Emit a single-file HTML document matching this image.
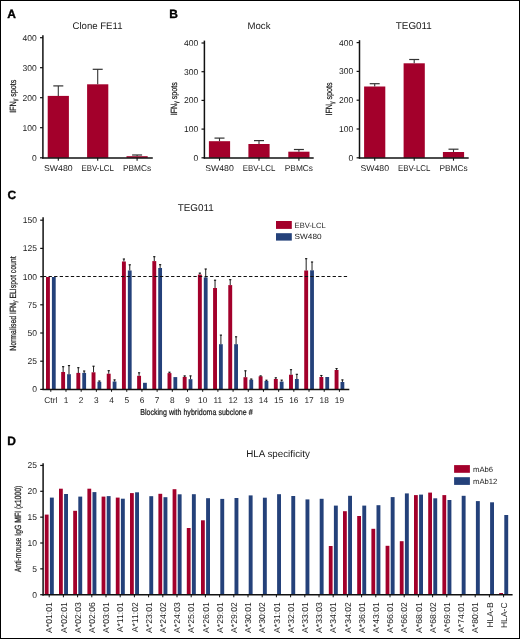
<!DOCTYPE html>
<html><head><meta charset="utf-8"><title>Figure</title>
<style>
html,body{margin:0;padding:0;background:#fff;}
.fig{position:relative;width:520px;height:639px;box-sizing:border-box;border:1px solid #000;background:#fff;overflow:hidden;}
svg{position:absolute;left:-1px;top:-1px;will-change:transform;}
text{font-family:"Liberation Sans", sans-serif;text-rendering:geometricPrecision;}
.cl{stroke:#1a1a1a;stroke-width:0.22px;}
.bl{stroke:#000;stroke-width:0.35px;}
</style></head>
<body><div class="fig">
<svg width="520" height="639" viewBox="0 0 520 639">
<text x="7.30" y="17.80" font-size="12" text-anchor="start" font-weight="bold" fill="#000" class="bl">A</text>
<text x="169.30" y="17.80" font-size="12" text-anchor="start" font-weight="bold" fill="#000" class="bl">B</text>
<text x="7.40" y="199.30" font-size="12" text-anchor="start" font-weight="bold" fill="#000" class="bl">C</text>
<text x="7.30" y="445.20" font-size="12" text-anchor="start" font-weight="bold" fill="#000" class="bl">D</text>
<line x1="42.90" y1="35.20" x2="42.90" y2="158.50" stroke="#111" stroke-width="1.5" />
<line x1="40.00" y1="37.70" x2="43.00" y2="37.70" stroke="#111" stroke-width="1.2" />
<text x="36.70" y="40.70" font-size="8.5" text-anchor="end" font-weight="normal" fill="#1a1a1a" >400</text>
<line x1="40.00" y1="67.70" x2="43.00" y2="67.70" stroke="#111" stroke-width="1.2" />
<text x="36.70" y="70.70" font-size="8.5" text-anchor="end" font-weight="normal" fill="#1a1a1a" >300</text>
<line x1="40.00" y1="97.70" x2="43.00" y2="97.70" stroke="#111" stroke-width="1.2" />
<text x="36.70" y="100.70" font-size="8.5" text-anchor="end" font-weight="normal" fill="#1a1a1a" >200</text>
<line x1="40.00" y1="127.70" x2="43.00" y2="127.70" stroke="#111" stroke-width="1.2" />
<text x="36.70" y="130.70" font-size="8.5" text-anchor="end" font-weight="normal" fill="#1a1a1a" >100</text>
<line x1="40.00" y1="157.80" x2="43.00" y2="157.80" stroke="#111" stroke-width="1.2" />
<text x="36.70" y="160.80" font-size="8.5" text-anchor="end" font-weight="normal" fill="#1a1a1a" >0</text>
<rect x="47.70" y="95.90" width="21.20" height="61.90" fill="#a3002b"/>
<line x1="58.30" y1="85.90" x2="58.30" y2="95.90" stroke="#333" stroke-width="1.1" />
<line x1="53.30" y1="85.90" x2="63.30" y2="85.90" stroke="#333" stroke-width="1.2" />
<line x1="58.30" y1="157.80" x2="58.30" y2="160.70" stroke="#111" stroke-width="1.1" />
<text x="58.30" y="171.00" font-size="8.5" text-anchor="middle" font-weight="normal" fill="#1a1a1a" textLength="28.6" lengthAdjust="spacingAndGlyphs">SW480</text>
<rect x="87.10" y="84.30" width="21.20" height="73.50" fill="#a3002b"/>
<line x1="97.70" y1="69.30" x2="97.70" y2="84.30" stroke="#333" stroke-width="1.1" />
<line x1="92.70" y1="69.30" x2="102.70" y2="69.30" stroke="#333" stroke-width="1.2" />
<line x1="97.70" y1="157.80" x2="97.70" y2="160.70" stroke="#111" stroke-width="1.1" />
<text x="97.70" y="171.00" font-size="8.5" text-anchor="middle" font-weight="normal" fill="#1a1a1a" textLength="32.6" lengthAdjust="spacingAndGlyphs">EBV-LCL</text>
<rect x="126.50" y="156.20" width="21.20" height="1.60" fill="#a3002b"/>
<line x1="137.10" y1="155.00" x2="137.10" y2="156.20" stroke="#333" stroke-width="1.1" />
<line x1="132.10" y1="155.00" x2="142.10" y2="155.00" stroke="#333" stroke-width="1.2" />
<line x1="137.10" y1="157.80" x2="137.10" y2="160.70" stroke="#111" stroke-width="1.1" />
<text x="137.10" y="171.00" font-size="8.5" text-anchor="middle" font-weight="normal" fill="#1a1a1a" textLength="28.2" lengthAdjust="spacingAndGlyphs">PBMCs</text>
<line x1="42.20" y1="158.10" x2="152.80" y2="158.10" stroke="#111" stroke-width="1.5" />
<text x="97.50" y="29.10" font-size="9.6" text-anchor="middle" font-weight="normal" fill="#1a1a1a" >Clone FE11</text>
<text transform="translate(15.60,96.30) rotate(-90)" x="0" y="0" font-size="9.0" text-anchor="middle" fill="#1a1a1a" textLength="33" lengthAdjust="spacingAndGlyphs" class="cl">IFN<tspan font-size="6.5" dy="1.2">γ</tspan><tspan dy="-1.2"> spots</tspan></text>
<line x1="204.40" y1="40.60" x2="204.40" y2="158.50" stroke="#111" stroke-width="1.5" />
<line x1="201.50" y1="43.00" x2="204.50" y2="43.00" stroke="#111" stroke-width="1.2" />
<text x="198.20" y="46.00" font-size="8.5" text-anchor="end" font-weight="normal" fill="#1a1a1a" >400</text>
<line x1="201.50" y1="71.70" x2="204.50" y2="71.70" stroke="#111" stroke-width="1.2" />
<text x="198.20" y="74.70" font-size="8.5" text-anchor="end" font-weight="normal" fill="#1a1a1a" >300</text>
<line x1="201.50" y1="100.40" x2="204.50" y2="100.40" stroke="#111" stroke-width="1.2" />
<text x="198.20" y="103.40" font-size="8.5" text-anchor="end" font-weight="normal" fill="#1a1a1a" >200</text>
<line x1="201.50" y1="129.10" x2="204.50" y2="129.10" stroke="#111" stroke-width="1.2" />
<text x="198.20" y="132.10" font-size="8.5" text-anchor="end" font-weight="normal" fill="#1a1a1a" >100</text>
<line x1="201.50" y1="157.80" x2="204.50" y2="157.80" stroke="#111" stroke-width="1.2" />
<text x="198.20" y="160.80" font-size="8.5" text-anchor="end" font-weight="normal" fill="#1a1a1a" >0</text>
<rect x="208.90" y="141.20" width="21.20" height="16.60" fill="#a3002b"/>
<line x1="219.50" y1="138.10" x2="219.50" y2="141.20" stroke="#333" stroke-width="1.1" />
<line x1="214.50" y1="138.10" x2="224.50" y2="138.10" stroke="#333" stroke-width="1.2" />
<line x1="219.50" y1="157.80" x2="219.50" y2="160.70" stroke="#111" stroke-width="1.1" />
<text x="219.50" y="171.00" font-size="8.5" text-anchor="middle" font-weight="normal" fill="#1a1a1a" textLength="28.6" lengthAdjust="spacingAndGlyphs">SW480</text>
<rect x="248.40" y="144.00" width="21.20" height="13.80" fill="#a3002b"/>
<line x1="259.00" y1="140.60" x2="259.00" y2="144.00" stroke="#333" stroke-width="1.1" />
<line x1="254.00" y1="140.60" x2="264.00" y2="140.60" stroke="#333" stroke-width="1.2" />
<line x1="259.00" y1="157.80" x2="259.00" y2="160.70" stroke="#111" stroke-width="1.1" />
<text x="259.00" y="171.00" font-size="8.5" text-anchor="middle" font-weight="normal" fill="#1a1a1a" textLength="32.6" lengthAdjust="spacingAndGlyphs">EBV-LCL</text>
<rect x="288.30" y="151.70" width="21.20" height="6.10" fill="#a3002b"/>
<line x1="298.90" y1="149.50" x2="298.90" y2="151.70" stroke="#333" stroke-width="1.1" />
<line x1="293.90" y1="149.50" x2="303.90" y2="149.50" stroke="#333" stroke-width="1.2" />
<line x1="298.90" y1="157.80" x2="298.90" y2="160.70" stroke="#111" stroke-width="1.1" />
<text x="298.90" y="171.00" font-size="8.5" text-anchor="middle" font-weight="normal" fill="#1a1a1a" textLength="28.2" lengthAdjust="spacingAndGlyphs">PBMCs</text>
<line x1="203.70" y1="158.10" x2="313.70" y2="158.10" stroke="#111" stroke-width="1.5" />
<text x="259.00" y="29.10" font-size="9.6" text-anchor="middle" font-weight="normal" fill="#1a1a1a" >Mock</text>
<text transform="translate(176.90,98.80) rotate(-90)" x="0" y="0" font-size="9.0" text-anchor="middle" fill="#1a1a1a" textLength="33" lengthAdjust="spacingAndGlyphs" class="cl">IFN<tspan font-size="6.5" dy="1.2">γ</tspan><tspan dy="-1.2"> spots</tspan></text>
<line x1="359.50" y1="40.20" x2="359.50" y2="158.50" stroke="#111" stroke-width="1.5" />
<line x1="356.60" y1="42.60" x2="359.60" y2="42.60" stroke="#111" stroke-width="1.2" />
<text x="353.30" y="45.60" font-size="8.5" text-anchor="end" font-weight="normal" fill="#1a1a1a" >400</text>
<line x1="356.60" y1="71.40" x2="359.60" y2="71.40" stroke="#111" stroke-width="1.2" />
<text x="353.30" y="74.40" font-size="8.5" text-anchor="end" font-weight="normal" fill="#1a1a1a" >300</text>
<line x1="356.60" y1="100.20" x2="359.60" y2="100.20" stroke="#111" stroke-width="1.2" />
<text x="353.30" y="103.20" font-size="8.5" text-anchor="end" font-weight="normal" fill="#1a1a1a" >200</text>
<line x1="356.60" y1="129.00" x2="359.60" y2="129.00" stroke="#111" stroke-width="1.2" />
<text x="353.30" y="132.00" font-size="8.5" text-anchor="end" font-weight="normal" fill="#1a1a1a" >100</text>
<line x1="356.60" y1="157.80" x2="359.60" y2="157.80" stroke="#111" stroke-width="1.2" />
<text x="353.30" y="160.80" font-size="8.5" text-anchor="end" font-weight="normal" fill="#1a1a1a" >0</text>
<rect x="364.10" y="86.50" width="21.20" height="71.30" fill="#a3002b"/>
<line x1="374.70" y1="83.70" x2="374.70" y2="86.50" stroke="#333" stroke-width="1.1" />
<line x1="369.70" y1="83.70" x2="379.70" y2="83.70" stroke="#333" stroke-width="1.2" />
<line x1="374.70" y1="157.80" x2="374.70" y2="160.70" stroke="#111" stroke-width="1.1" />
<text x="374.70" y="171.00" font-size="8.5" text-anchor="middle" font-weight="normal" fill="#1a1a1a" textLength="28.6" lengthAdjust="spacingAndGlyphs">SW480</text>
<rect x="403.60" y="63.30" width="21.20" height="94.50" fill="#a3002b"/>
<line x1="414.20" y1="59.50" x2="414.20" y2="63.30" stroke="#333" stroke-width="1.1" />
<line x1="409.20" y1="59.50" x2="419.20" y2="59.50" stroke="#333" stroke-width="1.2" />
<line x1="414.20" y1="157.80" x2="414.20" y2="160.70" stroke="#111" stroke-width="1.1" />
<text x="414.20" y="171.00" font-size="8.5" text-anchor="middle" font-weight="normal" fill="#1a1a1a" textLength="32.6" lengthAdjust="spacingAndGlyphs">EBV-LCL</text>
<rect x="442.90" y="152.00" width="21.20" height="5.80" fill="#a3002b"/>
<line x1="453.50" y1="149.20" x2="453.50" y2="152.00" stroke="#333" stroke-width="1.1" />
<line x1="448.50" y1="149.20" x2="458.50" y2="149.20" stroke="#333" stroke-width="1.2" />
<line x1="453.50" y1="157.80" x2="453.50" y2="160.70" stroke="#111" stroke-width="1.1" />
<text x="453.50" y="171.00" font-size="8.5" text-anchor="middle" font-weight="normal" fill="#1a1a1a" textLength="28.2" lengthAdjust="spacingAndGlyphs">PBMCs</text>
<line x1="358.80" y1="158.10" x2="468.70" y2="158.10" stroke="#111" stroke-width="1.5" />
<text x="413.80" y="29.10" font-size="9.9" text-anchor="middle" font-weight="normal" fill="#1a1a1a" >TEG011</text>
<text transform="translate(332.30,99.00) rotate(-90)" x="0" y="0" font-size="9.0" text-anchor="middle" fill="#1a1a1a" textLength="33" lengthAdjust="spacingAndGlyphs" class="cl">IFN<tspan font-size="6.5" dy="1.2">γ</tspan><tspan dy="-1.2"> spots</tspan></text>
<line x1="43.10" y1="217.20" x2="43.10" y2="390.10" stroke="#111" stroke-width="1.5" />
<line x1="40.20" y1="389.40" x2="43.20" y2="389.40" stroke="#111" stroke-width="1.2" />
<text x="37.00" y="392.40" font-size="8.5" text-anchor="end" font-weight="normal" fill="#1a1a1a" >0</text>
<line x1="40.20" y1="361.20" x2="43.20" y2="361.20" stroke="#111" stroke-width="1.2" />
<text x="37.00" y="364.20" font-size="8.5" text-anchor="end" font-weight="normal" fill="#1a1a1a" >25</text>
<line x1="40.20" y1="333.00" x2="43.20" y2="333.00" stroke="#111" stroke-width="1.2" />
<text x="37.00" y="336.00" font-size="8.5" text-anchor="end" font-weight="normal" fill="#1a1a1a" >50</text>
<line x1="40.20" y1="304.80" x2="43.20" y2="304.80" stroke="#111" stroke-width="1.2" />
<text x="37.00" y="307.80" font-size="8.5" text-anchor="end" font-weight="normal" fill="#1a1a1a" >75</text>
<line x1="40.20" y1="276.60" x2="43.20" y2="276.60" stroke="#111" stroke-width="1.2" />
<text x="37.00" y="279.60" font-size="8.5" text-anchor="end" font-weight="normal" fill="#1a1a1a" >100</text>
<line x1="40.20" y1="248.40" x2="43.20" y2="248.40" stroke="#111" stroke-width="1.2" />
<text x="37.00" y="251.40" font-size="8.5" text-anchor="end" font-weight="normal" fill="#1a1a1a" >125</text>
<line x1="40.20" y1="220.20" x2="43.20" y2="220.20" stroke="#111" stroke-width="1.2" />
<text x="37.00" y="223.20" font-size="8.5" text-anchor="end" font-weight="normal" fill="#1a1a1a" >150</text>
<rect x="46.00" y="277.00" width="3.90" height="112.40" fill="#a3002b"/>
<rect x="51.90" y="277.00" width="3.80" height="112.40" fill="#24417a"/>
<line x1="50.80" y1="389.40" x2="50.80" y2="391.80" stroke="#111" stroke-width="1.0" />
<text x="50.80" y="402.50" font-size="8.3" text-anchor="middle" font-weight="normal" fill="#1a1a1a" >Ctrl</text>
<rect x="61.19" y="372.00" width="3.90" height="17.40" fill="#a3002b"/>
<rect x="67.09" y="374.20" width="3.80" height="15.20" fill="#24417a"/>
<line x1="63.14" y1="366.60" x2="63.14" y2="372.00" stroke="#2a2a2a" stroke-width="1.05" />
<line x1="62.04" y1="366.70" x2="64.24" y2="366.70" stroke="#111" stroke-width="1.1" />
<line x1="68.99" y1="365.50" x2="68.99" y2="374.20" stroke="#2a2a2a" stroke-width="1.05" />
<line x1="67.89" y1="365.60" x2="70.09" y2="365.60" stroke="#111" stroke-width="1.1" />
<line x1="65.99" y1="389.40" x2="65.99" y2="391.80" stroke="#111" stroke-width="1.0" />
<text x="65.99" y="402.50" font-size="8.3" text-anchor="middle" font-weight="normal" fill="#1a1a1a" >1</text>
<rect x="76.38" y="372.90" width="3.90" height="16.50" fill="#a3002b"/>
<rect x="82.28" y="372.90" width="3.80" height="16.50" fill="#24417a"/>
<line x1="78.33" y1="367.60" x2="78.33" y2="372.90" stroke="#2a2a2a" stroke-width="1.05" />
<line x1="77.23" y1="367.70" x2="79.43" y2="367.70" stroke="#111" stroke-width="1.1" />
<line x1="84.18" y1="370.90" x2="84.18" y2="372.90" stroke="#2a2a2a" stroke-width="1.05" />
<line x1="83.08" y1="371.00" x2="85.28" y2="371.00" stroke="#111" stroke-width="1.1" />
<line x1="81.18" y1="389.40" x2="81.18" y2="391.80" stroke="#111" stroke-width="1.0" />
<text x="81.18" y="402.50" font-size="8.3" text-anchor="middle" font-weight="normal" fill="#1a1a1a" >2</text>
<rect x="91.57" y="372.30" width="3.90" height="17.10" fill="#a3002b"/>
<rect x="97.47" y="381.80" width="3.80" height="7.60" fill="#24417a"/>
<line x1="93.52" y1="366.10" x2="93.52" y2="372.30" stroke="#2a2a2a" stroke-width="1.05" />
<line x1="92.42" y1="366.20" x2="94.62" y2="366.20" stroke="#111" stroke-width="1.1" />
<line x1="99.37" y1="380.90" x2="99.37" y2="381.80" stroke="#2a2a2a" stroke-width="1.05" />
<line x1="98.27" y1="381.00" x2="100.47" y2="381.00" stroke="#111" stroke-width="1.1" />
<line x1="96.37" y1="389.40" x2="96.37" y2="391.80" stroke="#111" stroke-width="1.0" />
<text x="96.37" y="402.50" font-size="8.3" text-anchor="middle" font-weight="normal" fill="#1a1a1a" >3</text>
<rect x="106.76" y="373.70" width="3.90" height="15.70" fill="#a3002b"/>
<rect x="112.66" y="381.50" width="3.80" height="7.90" fill="#24417a"/>
<line x1="108.71" y1="370.60" x2="108.71" y2="373.70" stroke="#2a2a2a" stroke-width="1.05" />
<line x1="107.61" y1="370.70" x2="109.81" y2="370.70" stroke="#111" stroke-width="1.1" />
<line x1="114.56" y1="379.80" x2="114.56" y2="381.50" stroke="#2a2a2a" stroke-width="1.05" />
<line x1="113.46" y1="379.90" x2="115.66" y2="379.90" stroke="#111" stroke-width="1.1" />
<line x1="111.56" y1="389.40" x2="111.56" y2="391.80" stroke="#111" stroke-width="1.0" />
<text x="111.56" y="402.50" font-size="8.3" text-anchor="middle" font-weight="normal" fill="#1a1a1a" >4</text>
<rect x="121.95" y="261.50" width="3.90" height="127.90" fill="#a3002b"/>
<rect x="127.85" y="270.50" width="3.80" height="118.90" fill="#24417a"/>
<line x1="123.90" y1="258.90" x2="123.90" y2="261.50" stroke="#2a2a2a" stroke-width="1.05" />
<line x1="122.80" y1="259.00" x2="125.00" y2="259.00" stroke="#111" stroke-width="1.1" />
<line x1="129.75" y1="264.70" x2="129.75" y2="270.50" stroke="#2a2a2a" stroke-width="1.05" />
<line x1="128.65" y1="264.80" x2="130.85" y2="264.80" stroke="#111" stroke-width="1.1" />
<line x1="126.75" y1="389.40" x2="126.75" y2="391.80" stroke="#111" stroke-width="1.0" />
<text x="126.75" y="402.50" font-size="8.3" text-anchor="middle" font-weight="normal" fill="#1a1a1a" >5</text>
<rect x="137.14" y="375.80" width="3.90" height="13.60" fill="#a3002b"/>
<rect x="143.04" y="382.80" width="3.80" height="6.60" fill="#24417a"/>
<line x1="139.09" y1="372.70" x2="139.09" y2="375.80" stroke="#2a2a2a" stroke-width="1.05" />
<line x1="137.99" y1="372.80" x2="140.19" y2="372.80" stroke="#111" stroke-width="1.1" />
<line x1="141.94" y1="389.40" x2="141.94" y2="391.80" stroke="#111" stroke-width="1.0" />
<text x="141.94" y="402.50" font-size="8.3" text-anchor="middle" font-weight="normal" fill="#1a1a1a" >6</text>
<rect x="152.33" y="261.10" width="3.90" height="128.30" fill="#a3002b"/>
<rect x="158.23" y="268.00" width="3.80" height="121.40" fill="#24417a"/>
<line x1="154.28" y1="256.60" x2="154.28" y2="261.10" stroke="#2a2a2a" stroke-width="1.05" />
<line x1="153.18" y1="256.70" x2="155.38" y2="256.70" stroke="#111" stroke-width="1.1" />
<line x1="160.13" y1="264.60" x2="160.13" y2="268.00" stroke="#2a2a2a" stroke-width="1.05" />
<line x1="159.03" y1="264.70" x2="161.23" y2="264.70" stroke="#111" stroke-width="1.1" />
<line x1="157.13" y1="389.40" x2="157.13" y2="391.80" stroke="#111" stroke-width="1.0" />
<text x="157.13" y="402.50" font-size="8.3" text-anchor="middle" font-weight="normal" fill="#1a1a1a" >7</text>
<rect x="167.52" y="373.10" width="3.90" height="16.30" fill="#a3002b"/>
<rect x="173.42" y="377.10" width="3.80" height="12.30" fill="#24417a"/>
<line x1="169.47" y1="372.10" x2="169.47" y2="373.10" stroke="#2a2a2a" stroke-width="1.05" />
<line x1="168.37" y1="372.20" x2="170.57" y2="372.20" stroke="#111" stroke-width="1.1" />
<line x1="172.32" y1="389.40" x2="172.32" y2="391.80" stroke="#111" stroke-width="1.0" />
<text x="172.32" y="402.50" font-size="8.3" text-anchor="middle" font-weight="normal" fill="#1a1a1a" >8</text>
<rect x="182.71" y="376.90" width="3.90" height="12.50" fill="#a3002b"/>
<rect x="188.61" y="379.20" width="3.80" height="10.20" fill="#24417a"/>
<line x1="184.66" y1="375.80" x2="184.66" y2="376.90" stroke="#2a2a2a" stroke-width="1.05" />
<line x1="183.56" y1="375.90" x2="185.76" y2="375.90" stroke="#111" stroke-width="1.1" />
<line x1="190.51" y1="375.80" x2="190.51" y2="379.20" stroke="#2a2a2a" stroke-width="1.05" />
<line x1="189.41" y1="375.90" x2="191.61" y2="375.90" stroke="#111" stroke-width="1.1" />
<line x1="187.51" y1="389.40" x2="187.51" y2="391.80" stroke="#111" stroke-width="1.0" />
<text x="187.51" y="402.50" font-size="8.3" text-anchor="middle" font-weight="normal" fill="#1a1a1a" >9</text>
<rect x="197.90" y="274.60" width="3.90" height="114.80" fill="#a3002b"/>
<rect x="203.80" y="277.40" width="3.80" height="112.00" fill="#24417a"/>
<line x1="199.85" y1="273.00" x2="199.85" y2="274.60" stroke="#2a2a2a" stroke-width="1.05" />
<line x1="198.75" y1="273.10" x2="200.95" y2="273.10" stroke="#111" stroke-width="1.1" />
<line x1="205.70" y1="268.90" x2="205.70" y2="277.40" stroke="#2a2a2a" stroke-width="1.05" />
<line x1="204.60" y1="269.00" x2="206.80" y2="269.00" stroke="#111" stroke-width="1.1" />
<line x1="202.70" y1="389.40" x2="202.70" y2="391.80" stroke="#111" stroke-width="1.0" />
<text x="202.70" y="402.50" font-size="8.3" text-anchor="middle" font-weight="normal" fill="#1a1a1a" >10</text>
<rect x="213.09" y="288.00" width="3.90" height="101.40" fill="#a3002b"/>
<rect x="218.99" y="344.20" width="3.80" height="45.20" fill="#24417a"/>
<line x1="215.04" y1="280.10" x2="215.04" y2="288.00" stroke="#2a2a2a" stroke-width="1.05" />
<line x1="213.94" y1="280.20" x2="216.14" y2="280.20" stroke="#111" stroke-width="1.1" />
<line x1="220.89" y1="335.00" x2="220.89" y2="344.20" stroke="#2a2a2a" stroke-width="1.05" />
<line x1="219.79" y1="335.10" x2="221.99" y2="335.10" stroke="#111" stroke-width="1.1" />
<line x1="217.89" y1="389.40" x2="217.89" y2="391.80" stroke="#111" stroke-width="1.0" />
<text x="217.89" y="402.50" font-size="8.3" text-anchor="middle" font-weight="normal" fill="#1a1a1a" >11</text>
<rect x="228.28" y="285.10" width="3.90" height="104.30" fill="#a3002b"/>
<rect x="234.18" y="344.20" width="3.80" height="45.20" fill="#24417a"/>
<line x1="230.23" y1="279.60" x2="230.23" y2="285.10" stroke="#2a2a2a" stroke-width="1.05" />
<line x1="229.13" y1="279.70" x2="231.33" y2="279.70" stroke="#111" stroke-width="1.1" />
<line x1="236.08" y1="336.70" x2="236.08" y2="344.20" stroke="#2a2a2a" stroke-width="1.05" />
<line x1="234.98" y1="336.80" x2="237.18" y2="336.80" stroke="#111" stroke-width="1.1" />
<line x1="233.08" y1="389.40" x2="233.08" y2="391.80" stroke="#111" stroke-width="1.0" />
<text x="233.08" y="402.50" font-size="8.3" text-anchor="middle" font-weight="normal" fill="#1a1a1a" >12</text>
<rect x="243.47" y="377.20" width="3.90" height="12.20" fill="#a3002b"/>
<rect x="249.37" y="379.70" width="3.80" height="9.70" fill="#24417a"/>
<line x1="245.42" y1="370.70" x2="245.42" y2="377.20" stroke="#2a2a2a" stroke-width="1.05" />
<line x1="244.32" y1="370.80" x2="246.52" y2="370.80" stroke="#111" stroke-width="1.1" />
<line x1="251.27" y1="378.90" x2="251.27" y2="379.70" stroke="#2a2a2a" stroke-width="1.05" />
<line x1="250.17" y1="379.00" x2="252.37" y2="379.00" stroke="#111" stroke-width="1.1" />
<line x1="248.27" y1="389.40" x2="248.27" y2="391.80" stroke="#111" stroke-width="1.0" />
<text x="248.27" y="402.50" font-size="8.3" text-anchor="middle" font-weight="normal" fill="#1a1a1a" >13</text>
<rect x="258.66" y="376.30" width="3.90" height="13.10" fill="#a3002b"/>
<rect x="264.56" y="381.00" width="3.80" height="8.40" fill="#24417a"/>
<line x1="260.61" y1="375.80" x2="260.61" y2="376.30" stroke="#2a2a2a" stroke-width="1.05" />
<line x1="259.51" y1="375.90" x2="261.71" y2="375.90" stroke="#111" stroke-width="1.1" />
<line x1="266.46" y1="380.10" x2="266.46" y2="381.00" stroke="#2a2a2a" stroke-width="1.05" />
<line x1="265.36" y1="380.20" x2="267.56" y2="380.20" stroke="#111" stroke-width="1.1" />
<line x1="263.46" y1="389.40" x2="263.46" y2="391.80" stroke="#111" stroke-width="1.0" />
<text x="263.46" y="402.50" font-size="8.3" text-anchor="middle" font-weight="normal" fill="#1a1a1a" >14</text>
<rect x="273.85" y="379.00" width="3.90" height="10.40" fill="#a3002b"/>
<rect x="279.75" y="381.60" width="3.80" height="7.80" fill="#24417a"/>
<line x1="275.80" y1="377.70" x2="275.80" y2="379.00" stroke="#2a2a2a" stroke-width="1.05" />
<line x1="274.70" y1="377.80" x2="276.90" y2="377.80" stroke="#111" stroke-width="1.1" />
<line x1="281.65" y1="380.00" x2="281.65" y2="381.60" stroke="#2a2a2a" stroke-width="1.05" />
<line x1="280.55" y1="380.10" x2="282.75" y2="380.10" stroke="#111" stroke-width="1.1" />
<line x1="278.65" y1="389.40" x2="278.65" y2="391.80" stroke="#111" stroke-width="1.0" />
<text x="278.65" y="402.50" font-size="8.3" text-anchor="middle" font-weight="normal" fill="#1a1a1a" >15</text>
<rect x="289.04" y="374.70" width="3.90" height="14.70" fill="#a3002b"/>
<rect x="294.94" y="379.00" width="3.80" height="10.40" fill="#24417a"/>
<line x1="290.99" y1="369.60" x2="290.99" y2="374.70" stroke="#2a2a2a" stroke-width="1.05" />
<line x1="289.89" y1="369.70" x2="292.09" y2="369.70" stroke="#111" stroke-width="1.1" />
<line x1="296.84" y1="374.20" x2="296.84" y2="379.00" stroke="#2a2a2a" stroke-width="1.05" />
<line x1="295.74" y1="374.30" x2="297.94" y2="374.30" stroke="#111" stroke-width="1.1" />
<line x1="293.84" y1="389.40" x2="293.84" y2="391.80" stroke="#111" stroke-width="1.0" />
<text x="293.84" y="402.50" font-size="8.3" text-anchor="middle" font-weight="normal" fill="#1a1a1a" >16</text>
<rect x="304.23" y="270.50" width="3.90" height="118.90" fill="#a3002b"/>
<rect x="310.13" y="270.30" width="3.80" height="119.10" fill="#24417a"/>
<line x1="306.18" y1="258.60" x2="306.18" y2="270.50" stroke="#2a2a2a" stroke-width="1.05" />
<line x1="305.08" y1="258.70" x2="307.28" y2="258.70" stroke="#111" stroke-width="1.1" />
<line x1="312.03" y1="261.90" x2="312.03" y2="270.30" stroke="#2a2a2a" stroke-width="1.05" />
<line x1="310.93" y1="262.00" x2="313.13" y2="262.00" stroke="#111" stroke-width="1.1" />
<line x1="309.03" y1="389.40" x2="309.03" y2="391.80" stroke="#111" stroke-width="1.0" />
<text x="309.03" y="402.50" font-size="8.3" text-anchor="middle" font-weight="normal" fill="#1a1a1a" >17</text>
<rect x="319.42" y="377.00" width="3.90" height="12.40" fill="#a3002b"/>
<rect x="325.32" y="377.00" width="3.80" height="12.40" fill="#24417a"/>
<line x1="321.37" y1="375.40" x2="321.37" y2="377.00" stroke="#2a2a2a" stroke-width="1.05" />
<line x1="320.27" y1="375.50" x2="322.47" y2="375.50" stroke="#111" stroke-width="1.1" />
<line x1="324.22" y1="389.40" x2="324.22" y2="391.80" stroke="#111" stroke-width="1.0" />
<text x="324.22" y="402.50" font-size="8.3" text-anchor="middle" font-weight="normal" fill="#1a1a1a" >18</text>
<rect x="334.61" y="370.00" width="3.90" height="19.40" fill="#a3002b"/>
<rect x="340.51" y="382.00" width="3.80" height="7.40" fill="#24417a"/>
<line x1="336.56" y1="368.50" x2="336.56" y2="370.00" stroke="#2a2a2a" stroke-width="1.05" />
<line x1="335.46" y1="368.60" x2="337.66" y2="368.60" stroke="#111" stroke-width="1.1" />
<line x1="342.41" y1="379.80" x2="342.41" y2="382.00" stroke="#2a2a2a" stroke-width="1.05" />
<line x1="341.31" y1="379.90" x2="343.51" y2="379.90" stroke="#111" stroke-width="1.1" />
<line x1="339.41" y1="389.40" x2="339.41" y2="391.80" stroke="#111" stroke-width="1.0" />
<text x="339.41" y="402.50" font-size="8.3" text-anchor="middle" font-weight="normal" fill="#1a1a1a" >19</text>
<line x1="42.40" y1="389.40" x2="349.30" y2="389.40" stroke="#111" stroke-width="1.5" />
<line x1="43.00" y1="276.50" x2="347.30" y2="276.50" stroke="#111" stroke-width="1.2" stroke-dasharray="3.3 2.27"/>
<text x="195.70" y="211.10" font-size="9.9" text-anchor="middle" font-weight="normal" fill="#1a1a1a" >TEG011</text>
<rect x="276.00" y="221.00" width="15.80" height="7.90" fill="#a3002b"/>
<rect x="276.00" y="233.20" width="15.80" height="7.40" fill="#24417a"/>
<text x="294.60" y="228.00" font-size="7.6" text-anchor="start" font-weight="normal" fill="#1a1a1a" textLength="31.2" lengthAdjust="spacingAndGlyphs">EBV-LCL</text>
<text x="294.60" y="239.30" font-size="7.6" text-anchor="start" font-weight="normal" fill="#1a1a1a" textLength="27.0" lengthAdjust="spacingAndGlyphs">SW480</text>
<text x="140.20" y="415.30" font-size="8.6" text-anchor="start" font-weight="normal" fill="#1a1a1a" class="cl" textLength="112.4" lengthAdjust="spacingAndGlyphs">Blocking with hybridoma subclone #</text>
<text transform="translate(15.70,303.60) rotate(-90)" x="0" y="0" font-size="9.0" text-anchor="middle" fill="#1a1a1a" textLength="94.3" lengthAdjust="spacingAndGlyphs" class="cl">Normalised IFN<tspan font-size="6.5" dy="1.2">γ</tspan><tspan dy="-1.2"> ELIspot count</tspan></text>
<line x1="43.10" y1="463.30" x2="43.10" y2="595.40" stroke="#111" stroke-width="1.5" />
<line x1="40.20" y1="594.70" x2="43.20" y2="594.70" stroke="#111" stroke-width="1.2" />
<text x="37.00" y="597.70" font-size="8.5" text-anchor="end" font-weight="normal" fill="#1a1a1a" >0</text>
<line x1="40.20" y1="568.85" x2="43.20" y2="568.85" stroke="#111" stroke-width="1.2" />
<text x="37.00" y="571.85" font-size="8.5" text-anchor="end" font-weight="normal" fill="#1a1a1a" >5</text>
<line x1="40.20" y1="543.00" x2="43.20" y2="543.00" stroke="#111" stroke-width="1.2" />
<text x="37.00" y="546.00" font-size="8.5" text-anchor="end" font-weight="normal" fill="#1a1a1a" >10</text>
<line x1="40.20" y1="517.15" x2="43.20" y2="517.15" stroke="#111" stroke-width="1.2" />
<text x="37.00" y="520.15" font-size="8.5" text-anchor="end" font-weight="normal" fill="#1a1a1a" >15</text>
<line x1="40.20" y1="491.30" x2="43.20" y2="491.30" stroke="#111" stroke-width="1.2" />
<text x="37.00" y="494.30" font-size="8.5" text-anchor="end" font-weight="normal" fill="#1a1a1a" >20</text>
<line x1="40.20" y1="465.45" x2="43.20" y2="465.45" stroke="#111" stroke-width="1.2" />
<text x="37.00" y="468.45" font-size="8.5" text-anchor="end" font-weight="normal" fill="#1a1a1a" >25</text>
<rect x="44.80" y="514.60" width="3.80" height="80.10" fill="#a3002b"/>
<rect x="49.90" y="497.60" width="3.90" height="97.10" fill="#24417a"/>
<line x1="49.20" y1="594.70" x2="49.20" y2="597.30" stroke="#111" stroke-width="1.0" />
<text transform="translate(52.30,602.3) rotate(-90)" font-size="8.6" text-anchor="end" fill="#1a1a1a">A*01:01</text>
<rect x="59.00" y="488.70" width="3.80" height="106.00" fill="#a3002b"/>
<rect x="64.10" y="494.00" width="3.90" height="100.70" fill="#24417a"/>
<line x1="63.40" y1="594.70" x2="63.40" y2="597.30" stroke="#111" stroke-width="1.0" />
<text transform="translate(66.50,602.3) rotate(-90)" font-size="8.6" text-anchor="end" fill="#1a1a1a">A*02:01</text>
<rect x="73.20" y="510.80" width="3.80" height="83.90" fill="#a3002b"/>
<rect x="78.30" y="496.60" width="3.90" height="98.10" fill="#24417a"/>
<line x1="77.60" y1="594.70" x2="77.60" y2="597.30" stroke="#111" stroke-width="1.0" />
<text transform="translate(80.70,602.3) rotate(-90)" font-size="8.6" text-anchor="end" fill="#1a1a1a">A*02:03</text>
<rect x="87.40" y="488.70" width="3.80" height="106.00" fill="#a3002b"/>
<rect x="92.50" y="492.10" width="3.90" height="102.60" fill="#24417a"/>
<line x1="91.80" y1="594.70" x2="91.80" y2="597.30" stroke="#111" stroke-width="1.0" />
<text transform="translate(94.90,602.3) rotate(-90)" font-size="8.6" text-anchor="end" fill="#1a1a1a">A*02:06</text>
<rect x="101.60" y="496.60" width="3.80" height="98.10" fill="#a3002b"/>
<rect x="106.70" y="496.10" width="3.90" height="98.60" fill="#24417a"/>
<line x1="106.00" y1="594.70" x2="106.00" y2="597.30" stroke="#111" stroke-width="1.0" />
<text transform="translate(109.10,602.3) rotate(-90)" font-size="8.6" text-anchor="end" fill="#1a1a1a">A*03:01</text>
<rect x="115.80" y="497.60" width="3.80" height="97.10" fill="#a3002b"/>
<rect x="120.90" y="498.70" width="3.90" height="96.00" fill="#24417a"/>
<line x1="120.20" y1="594.70" x2="120.20" y2="597.30" stroke="#111" stroke-width="1.0" />
<text transform="translate(123.30,602.3) rotate(-90)" font-size="8.6" text-anchor="end" fill="#1a1a1a">A*11:01</text>
<rect x="130.00" y="493.10" width="3.80" height="101.60" fill="#a3002b"/>
<rect x="135.10" y="492.30" width="3.90" height="102.40" fill="#24417a"/>
<line x1="134.40" y1="594.70" x2="134.40" y2="597.30" stroke="#111" stroke-width="1.0" />
<text transform="translate(137.50,602.3) rotate(-90)" font-size="8.6" text-anchor="end" fill="#1a1a1a">A*11:02</text>
<rect x="149.30" y="496.20" width="3.90" height="98.50" fill="#24417a"/>
<line x1="148.60" y1="594.70" x2="148.60" y2="597.30" stroke="#111" stroke-width="1.0" />
<text transform="translate(151.70,602.3) rotate(-90)" font-size="8.6" text-anchor="end" fill="#1a1a1a">A*23:01</text>
<rect x="158.40" y="493.80" width="3.80" height="100.90" fill="#a3002b"/>
<rect x="163.50" y="497.20" width="3.90" height="97.50" fill="#24417a"/>
<line x1="162.80" y1="594.70" x2="162.80" y2="597.30" stroke="#111" stroke-width="1.0" />
<text transform="translate(165.90,602.3) rotate(-90)" font-size="8.6" text-anchor="end" fill="#1a1a1a">A*24:02</text>
<rect x="172.60" y="489.20" width="3.80" height="105.50" fill="#a3002b"/>
<rect x="177.70" y="494.30" width="3.90" height="100.40" fill="#24417a"/>
<line x1="177.00" y1="594.70" x2="177.00" y2="597.30" stroke="#111" stroke-width="1.0" />
<text transform="translate(180.10,602.3) rotate(-90)" font-size="8.6" text-anchor="end" fill="#1a1a1a">A*24:03</text>
<rect x="186.80" y="528.00" width="3.80" height="66.70" fill="#a3002b"/>
<rect x="191.90" y="494.20" width="3.90" height="100.50" fill="#24417a"/>
<line x1="191.20" y1="594.70" x2="191.20" y2="597.30" stroke="#111" stroke-width="1.0" />
<text transform="translate(194.30,602.3) rotate(-90)" font-size="8.6" text-anchor="end" fill="#1a1a1a">A*25:01</text>
<rect x="201.00" y="520.30" width="3.80" height="74.40" fill="#a3002b"/>
<rect x="206.10" y="498.20" width="3.90" height="96.50" fill="#24417a"/>
<line x1="205.40" y1="594.70" x2="205.40" y2="597.30" stroke="#111" stroke-width="1.0" />
<text transform="translate(208.50,602.3) rotate(-90)" font-size="8.6" text-anchor="end" fill="#1a1a1a">A*26:01</text>
<rect x="220.30" y="498.90" width="3.90" height="95.80" fill="#24417a"/>
<line x1="219.60" y1="594.70" x2="219.60" y2="597.30" stroke="#111" stroke-width="1.0" />
<text transform="translate(222.70,602.3) rotate(-90)" font-size="8.6" text-anchor="end" fill="#1a1a1a">A*29:01</text>
<rect x="234.50" y="498.00" width="3.90" height="96.70" fill="#24417a"/>
<line x1="233.80" y1="594.70" x2="233.80" y2="597.30" stroke="#111" stroke-width="1.0" />
<text transform="translate(236.90,602.3) rotate(-90)" font-size="8.6" text-anchor="end" fill="#1a1a1a">A*29:02</text>
<rect x="248.70" y="495.40" width="3.90" height="99.30" fill="#24417a"/>
<line x1="248.00" y1="594.70" x2="248.00" y2="597.30" stroke="#111" stroke-width="1.0" />
<text transform="translate(251.10,602.3) rotate(-90)" font-size="8.6" text-anchor="end" fill="#1a1a1a">A*30:01</text>
<rect x="262.90" y="497.70" width="3.90" height="97.00" fill="#24417a"/>
<line x1="262.20" y1="594.70" x2="262.20" y2="597.30" stroke="#111" stroke-width="1.0" />
<text transform="translate(265.30,602.3) rotate(-90)" font-size="8.6" text-anchor="end" fill="#1a1a1a">A*30:02</text>
<rect x="277.10" y="494.20" width="3.90" height="100.50" fill="#24417a"/>
<line x1="276.40" y1="594.70" x2="276.40" y2="597.30" stroke="#111" stroke-width="1.0" />
<text transform="translate(279.50,602.3) rotate(-90)" font-size="8.6" text-anchor="end" fill="#1a1a1a">A*31:01</text>
<rect x="291.30" y="496.00" width="3.90" height="98.70" fill="#24417a"/>
<line x1="290.60" y1="594.70" x2="290.60" y2="597.30" stroke="#111" stroke-width="1.0" />
<text transform="translate(293.70,602.3) rotate(-90)" font-size="8.6" text-anchor="end" fill="#1a1a1a">A*32:01</text>
<rect x="305.50" y="499.40" width="3.90" height="95.30" fill="#24417a"/>
<line x1="304.80" y1="594.70" x2="304.80" y2="597.30" stroke="#111" stroke-width="1.0" />
<text transform="translate(307.90,602.3) rotate(-90)" font-size="8.6" text-anchor="end" fill="#1a1a1a">A*33:01</text>
<rect x="319.70" y="498.80" width="3.90" height="95.90" fill="#24417a"/>
<line x1="319.00" y1="594.70" x2="319.00" y2="597.30" stroke="#111" stroke-width="1.0" />
<text transform="translate(322.10,602.3) rotate(-90)" font-size="8.6" text-anchor="end" fill="#1a1a1a">A*33:03</text>
<rect x="328.80" y="546.00" width="3.80" height="48.70" fill="#a3002b"/>
<rect x="333.90" y="505.60" width="3.90" height="89.10" fill="#24417a"/>
<line x1="333.20" y1="594.70" x2="333.20" y2="597.30" stroke="#111" stroke-width="1.0" />
<text transform="translate(336.30,602.3) rotate(-90)" font-size="8.6" text-anchor="end" fill="#1a1a1a">A*34:01</text>
<rect x="343.00" y="511.20" width="3.80" height="83.50" fill="#a3002b"/>
<rect x="348.10" y="495.80" width="3.90" height="98.90" fill="#24417a"/>
<line x1="347.40" y1="594.70" x2="347.40" y2="597.30" stroke="#111" stroke-width="1.0" />
<text transform="translate(350.50,602.3) rotate(-90)" font-size="8.6" text-anchor="end" fill="#1a1a1a">A*34:02</text>
<rect x="357.20" y="516.00" width="3.80" height="78.70" fill="#a3002b"/>
<rect x="362.30" y="505.60" width="3.90" height="89.10" fill="#24417a"/>
<line x1="361.60" y1="594.70" x2="361.60" y2="597.30" stroke="#111" stroke-width="1.0" />
<text transform="translate(364.70,602.3) rotate(-90)" font-size="8.6" text-anchor="end" fill="#1a1a1a">A*36:01</text>
<rect x="371.40" y="528.80" width="3.80" height="65.90" fill="#a3002b"/>
<rect x="376.50" y="505.20" width="3.90" height="89.50" fill="#24417a"/>
<line x1="375.80" y1="594.70" x2="375.80" y2="597.30" stroke="#111" stroke-width="1.0" />
<text transform="translate(378.90,602.3) rotate(-90)" font-size="8.6" text-anchor="end" fill="#1a1a1a">A*43:01</text>
<rect x="385.60" y="545.80" width="3.80" height="48.90" fill="#a3002b"/>
<rect x="390.70" y="497.10" width="3.90" height="97.60" fill="#24417a"/>
<line x1="390.00" y1="594.70" x2="390.00" y2="597.30" stroke="#111" stroke-width="1.0" />
<text transform="translate(393.10,602.3) rotate(-90)" font-size="8.6" text-anchor="end" fill="#1a1a1a">A*66:01</text>
<rect x="399.80" y="541.20" width="3.80" height="53.50" fill="#a3002b"/>
<rect x="404.90" y="493.40" width="3.90" height="101.30" fill="#24417a"/>
<line x1="404.20" y1="594.70" x2="404.20" y2="597.30" stroke="#111" stroke-width="1.0" />
<text transform="translate(407.30,602.3) rotate(-90)" font-size="8.6" text-anchor="end" fill="#1a1a1a">A*66:02</text>
<rect x="414.00" y="495.10" width="3.80" height="99.60" fill="#a3002b"/>
<rect x="419.10" y="494.60" width="3.90" height="100.10" fill="#24417a"/>
<line x1="418.40" y1="594.70" x2="418.40" y2="597.30" stroke="#111" stroke-width="1.0" />
<text transform="translate(421.50,602.3) rotate(-90)" font-size="8.6" text-anchor="end" fill="#1a1a1a">A*68:01</text>
<rect x="428.20" y="492.60" width="3.80" height="102.10" fill="#a3002b"/>
<rect x="433.30" y="498.30" width="3.90" height="96.40" fill="#24417a"/>
<line x1="432.60" y1="594.70" x2="432.60" y2="597.30" stroke="#111" stroke-width="1.0" />
<text transform="translate(435.70,602.3) rotate(-90)" font-size="8.6" text-anchor="end" fill="#1a1a1a">A*68:02</text>
<rect x="442.40" y="495.10" width="3.80" height="99.60" fill="#a3002b"/>
<rect x="447.50" y="500.00" width="3.90" height="94.70" fill="#24417a"/>
<line x1="446.80" y1="594.70" x2="446.80" y2="597.30" stroke="#111" stroke-width="1.0" />
<text transform="translate(449.90,602.3) rotate(-90)" font-size="8.6" text-anchor="end" fill="#1a1a1a">A*69:01</text>
<rect x="461.70" y="495.80" width="3.90" height="98.90" fill="#24417a"/>
<line x1="461.00" y1="594.70" x2="461.00" y2="597.30" stroke="#111" stroke-width="1.0" />
<text transform="translate(464.10,602.3) rotate(-90)" font-size="8.6" text-anchor="end" fill="#1a1a1a">A*74:01</text>
<rect x="475.90" y="501.10" width="3.90" height="93.60" fill="#24417a"/>
<line x1="475.20" y1="594.70" x2="475.20" y2="597.30" stroke="#111" stroke-width="1.0" />
<text transform="translate(478.30,602.3) rotate(-90)" font-size="8.6" text-anchor="end" fill="#1a1a1a">A*80:01</text>
<rect x="490.10" y="502.30" width="3.90" height="92.40" fill="#24417a"/>
<line x1="489.40" y1="594.70" x2="489.40" y2="597.30" stroke="#111" stroke-width="1.0" />
<text transform="translate(492.50,602.3) rotate(-90)" font-size="8.6" text-anchor="end" fill="#1a1a1a">HLA-B</text>
<rect x="499.20" y="593.00" width="3.80" height="1.70" fill="#a3002b"/>
<rect x="504.30" y="515.00" width="3.90" height="79.70" fill="#24417a"/>
<line x1="503.60" y1="594.70" x2="503.60" y2="597.30" stroke="#111" stroke-width="1.0" />
<text transform="translate(506.70,602.3) rotate(-90)" font-size="8.6" text-anchor="end" fill="#1a1a1a">HLA-C</text>
<line x1="42.40" y1="594.70" x2="512.60" y2="594.70" stroke="#111" stroke-width="1.5" />
<text x="278.00" y="457.30" font-size="9.8" text-anchor="middle" font-weight="normal" fill="#1a1a1a" >HLA specificity</text>
<rect x="454.10" y="465.10" width="15.80" height="7.70" fill="#a3002b"/>
<rect x="454.10" y="477.20" width="15.80" height="7.70" fill="#24417a"/>
<text x="473.00" y="471.90" font-size="7.7" text-anchor="start" font-weight="normal" fill="#1a1a1a" >mAb6</text>
<text x="473.00" y="484.00" font-size="7.7" text-anchor="start" font-weight="normal" fill="#1a1a1a" >mAb12</text>
<text transform="translate(20.60,529.00) rotate(-90)" x="0" y="0" font-size="9.0" text-anchor="middle" fill="#1a1a1a" textLength="86.5" lengthAdjust="spacingAndGlyphs" class="cl">Anti-mouse IgG MFI (x1000)</text>
</svg>
</div></body></html>
